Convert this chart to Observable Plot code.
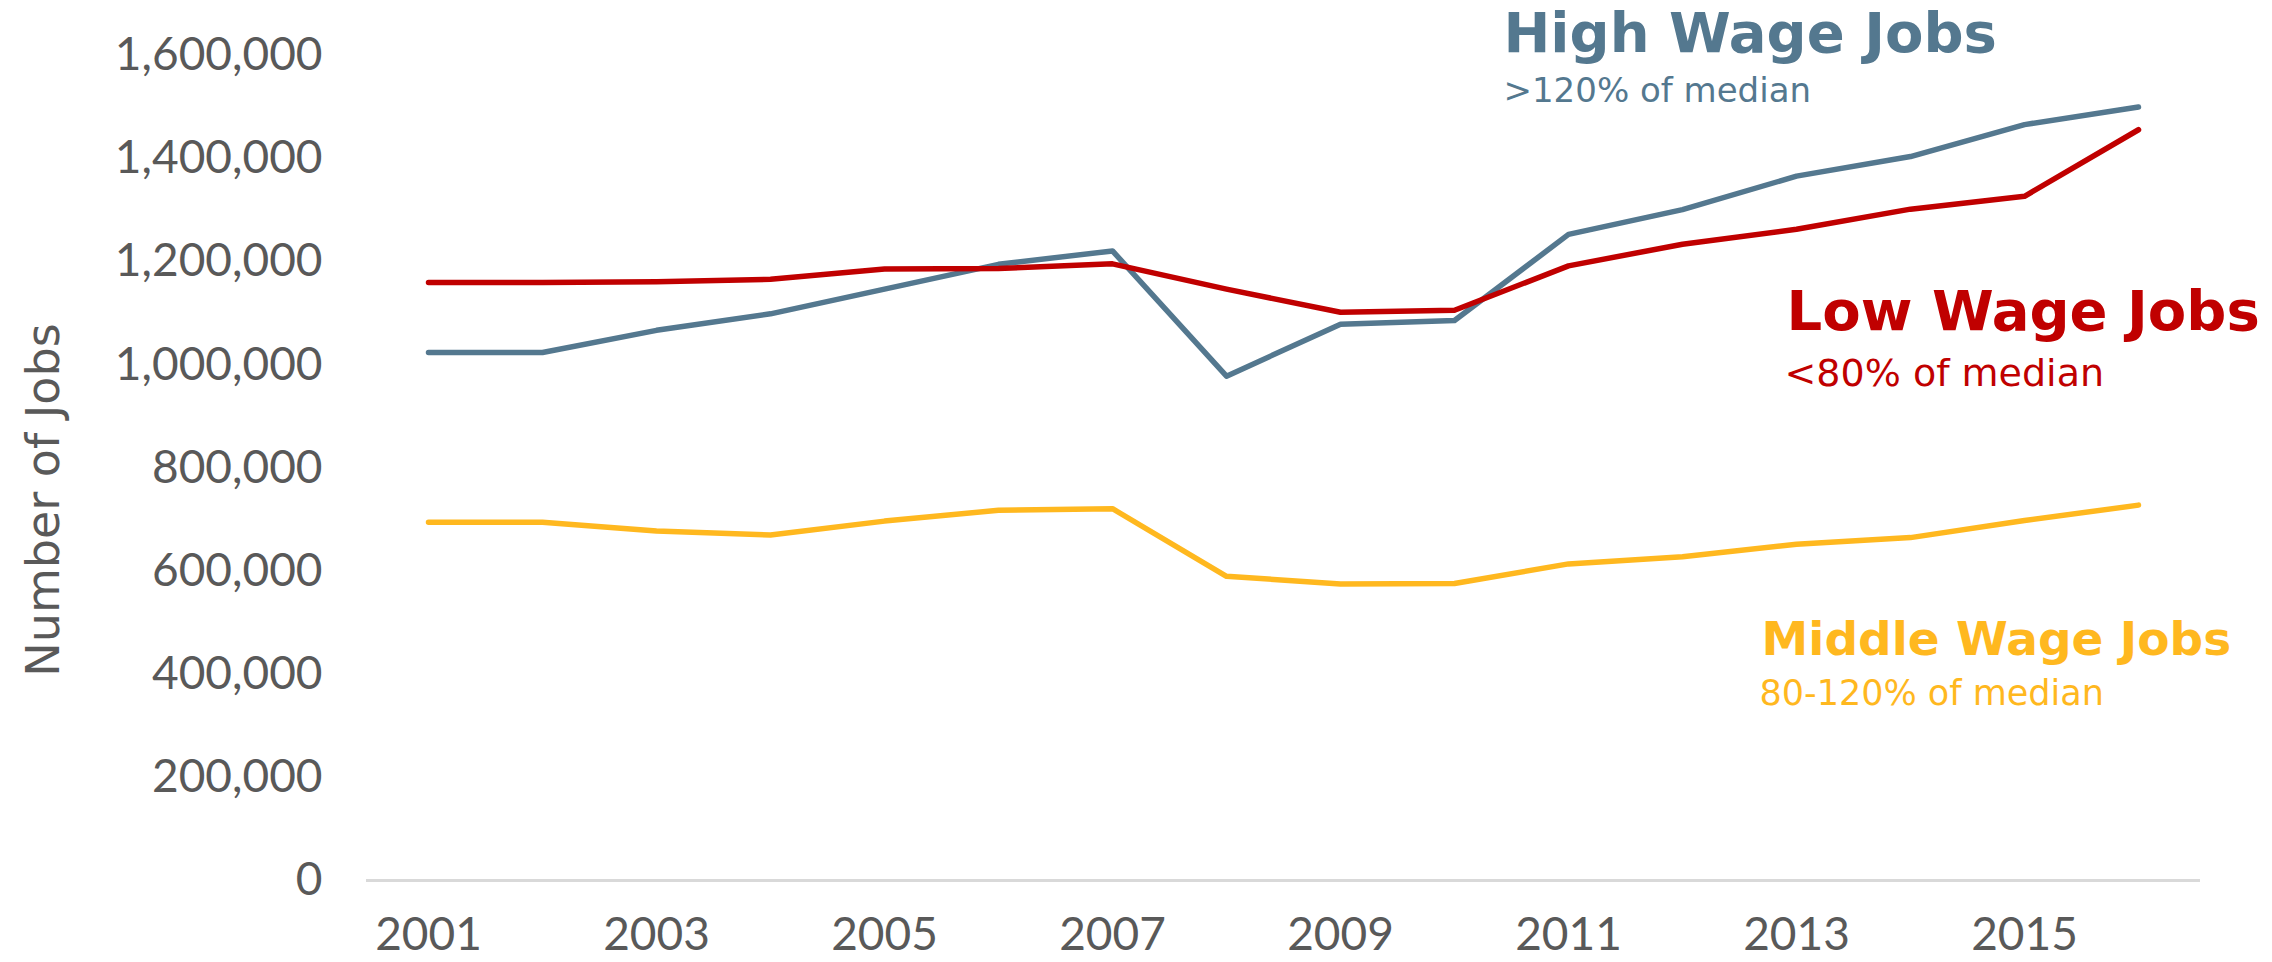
<!DOCTYPE html>
<html>
<head>
<meta charset="utf-8">
<script src="https://cdn.jsdelivr.net/npm/d3@7"></script>
<script src="https://cdn.jsdelivr.net/npm/@observablehq/plot@0.6"></script>
<style>
  html, body { margin: 0; padding: 0; background: #ffffff; overflow: hidden; }
</style>
</head>
<body>
<div id="chart"></div>
<script>
// ---- data ----
const years = [2001, 2002, 2003, 2004, 2005, 2006, 2007, 2008, 2009, 2010, 2011, 2012, 2013, 2014, 2015, 2016];
const highWage   = [1024000, 1024000, 1067000, 1099000, 1147000, 1195000, 1221000, 978000, 1079000, 1086000, 1253000, 1301000, 1366000, 1404000, 1466000, 1500000];
const lowWage    = [1160000, 1160000, 1161000, 1166000, 1186000, 1187000, 1196000, 1147000, 1102000, 1106000, 1192000, 1234000, 1263000, 1302000, 1327000, 1456000];
const middleWage = [695000, 695000, 678000, 670000, 697000, 718000, 721000, 590000, 575000, 576000, 614000, 628000, 652000, 665000, 698000, 728000];
const xTickYears = [2001, 2003, 2005, 2007, 2009, 2011, 2013, 2015];
const yTickValues = [0, 200000, 400000, 600000, 800000, 1000000, 1200000, 1400000, 1600000];
const seriesNames = ["High Wage Jobs", "Low Wage Jobs", "Middle Wage Jobs"];
const seriesNotes = [">120% of median", "<80% of median", "80-120% of median"];
const yAxisTitle = "Number of Jobs";

// ---- styles ----
const C_HIGH = "#54788F", C_LOW = "#C00000", C_MID = "#FFB81F", C_TEXT = "#595959";
const BOLD = "DejaVu Sans", REG = "DejaVu Sans";

const lastIndex = years.length - 1;
const endPoint = vals => [{year: years[lastIndex], jobs: vals[lastIndex]}];

function label(vals, txt, color, size, weight, dx, dy) {
  return Plot.text(endPoint(vals), {
    x: "year", y: "jobs", text: () => txt,
    fill: color, fontSize: size, fontWeight: weight, fontFamily: weight === "bold" ? BOLD : REG,
    textAnchor: "start", lineAnchor: "bottom", dx, dy
  });
}

const chart = Plot.plot({
  width: 2272,
  height: 962,
  marginLeft: 366,
  marginRight: 72,
  marginTop: 55,
  marginBottom: 82,
  style: { fontFamily: "Lato", fontSize: "46px", color: C_TEXT, background: "#ffffff" },
  x: {
    type: "point", domain: years, padding: 0.5,
    ticks: xTickYears, tickSize: 0, tickPadding: 37, tickFormat: d => String(d), label: null
  },
  y: {
    domain: [0, 1600000], ticks: yTickValues, tickSize: 0, tickPadding: 44,
    tickFormat: d3.format(","), label: null
  },
  marks: [
    Plot.ruleY([0], { stroke: "#D9D9D9", strokeWidth: 3 }),
    Plot.line(years, { x: years, y: highWage, stroke: C_HIGH, strokeWidth: 5.5, strokeLinejoin: "round", strokeLinecap: "round" }),
    Plot.line(years, { x: years, y: lowWage, stroke: C_LOW, strokeWidth: 5.5, strokeLinejoin: "round", strokeLinecap: "round" }),
    Plot.line(years, { x: years, y: middleWage, stroke: C_MID, strokeWidth: 5.5, strokeLinejoin: "round", strokeLinecap: "round" }),
    label(highWage, seriesNames[0], C_HIGH, 56, "bold", -635, -55),
    label(highWage, seriesNotes[0], C_HIGH, 34, "normal", -635, -5),
    label(lowWage, seriesNames[1], C_LOW, 56, "bold", -352, 200),
    label(lowWage, seriesNotes[1], C_LOW, 38, "normal", -354, 256),
    label(middleWage, seriesNames[2], C_MID, 47, "bold", -377, 150),
    label(middleWage, seriesNotes[2], C_MID, 35, "normal", -379, 200),
    Plot.text([yAxisTitle], {
      frameAnchor: "left", text: d => d, rotate: -90, dx: -322, dy: 32,
      fill: C_TEXT, fontSize: 46, fontFamily: REG, textAnchor: "middle", lineAnchor: "middle"
    })
  ]
});
document.getElementById("chart").appendChild(chart);
</script>
</body>
</html>
